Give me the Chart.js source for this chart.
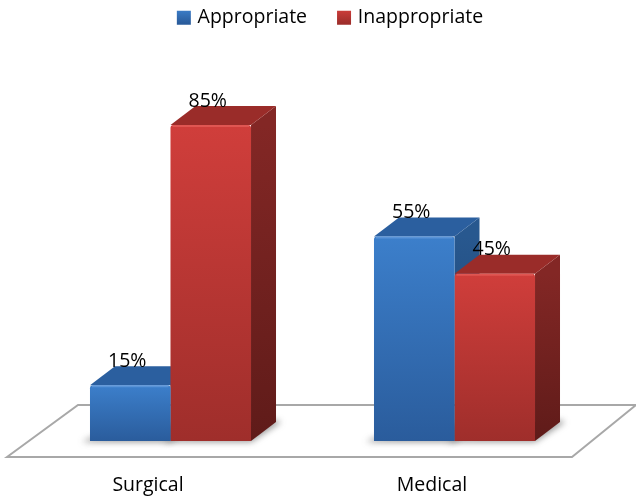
<!DOCTYPE html>
<html>
<head>
<meta charset="utf-8">
<script src="https://cdn.jsdelivr.net/npm/chart.js@4"></script>
<style>
  html, body { margin: 0; padding: 0; background: #fff; }
  canvas { display: block; }
</style>
</head>
<body>
<canvas id="chart" width="636" height="497"></canvas>
<script>
const categories = ['Surgical', 'Medical'];
const appropriate = [15, 55];
const inappropriate = [85, 45];

// Profondeur de la fausse 3D
const depthX = 25;
const depthY = 19;
const fontName = '"Open Sans", sans-serif';

const palette = [
  { top: '#3c7fcb', bottom: '#2a5c9c', roof: '#2b5f9f', sideTop: '#28588f', sideBottom: '#1d3f6b', edge: 'rgba(120,170,230,0.5)' },
  { top: '#d03e3b', bottom: '#9f2e2b', roof: '#9a2c29', sideTop: '#832725', sideBottom: '#5f1b19', edge: 'rgba(240,110,105,0.5)' }
];

// Dégradé vertical propre à chaque barre
const frontFill = (c, colors) => {
  const y = c.chart.scales.y;
  if (!y || c.raw === undefined) return colors.top;
  const grad = c.chart.ctx.createLinearGradient(0, y.getPixelForValue(c.raw), 0, y.getPixelForValue(0));
  grad.addColorStop(0, colors.top);
  grad.addColorStop(1, colors.bottom);
  return grad;
};

const swatchFill = (chart, colors) => {
  const grad = chart.ctx.createLinearGradient(0, 9, 0, 23);
  grad.addColorStop(0, colors.top);
  grad.addColorStop(1, colors.bottom);
  return grad;
};

const polygon = (ctx, pts, fill) => {
  ctx.beginPath();
  pts.forEach((p, i) => i ? ctx.lineTo(p[0], p[1]) : ctx.moveTo(p[0], p[1]));
  ctx.closePath();
  ctx.fillStyle = fill;
  ctx.fill();
};

// Sol en perspective, côtés et toits des barres
const boxPlugin = {
  id: 'box3d',
  afterLayout(chart) {
    // La légende de la référence est décalée vers la droite et remontée
    chart.legend.left += 19;
    chart.legend.right += 19;
    chart.legend.top -= 25;
  },
  beforeDatasetsDraw(chart) {
    const { ctx, chartArea: area } = chart;
    ctx.save();
    ctx.beginPath();
    ctx.moveTo(area.left - 21.5, area.bottom + 16);
    ctx.lineTo(area.left + 49.5, area.bottom - 36);
    ctx.lineTo(636, area.bottom - 36);
    ctx.lineTo(area.right - 24.5, area.bottom + 16);
    ctx.closePath();
    ctx.strokeStyle = '#a8a8a8';
    ctx.lineWidth = 2;
    ctx.stroke();

    chart.data.datasets.forEach((ds, d) => {
      const colors = palette[d];
      chart.getDatasetMeta(d).data.forEach((bar) => {
        const half = bar.width / 2;
        const l = bar.x - half, r = bar.x + half, t = bar.y, b = bar.base;

        // ombre au pied de la barre
        ctx.save();
        ctx.filter = 'blur(3px)';
        polygon(ctx, [[l - 8, b + 1], [r, b + 1], [r + depthX + 5, b - depthY], [r + depthX, b - depthY - 2], [l, b - 3]], 'rgba(70,70,70,0.55)');
        ctx.restore();

        const side = ctx.createLinearGradient(0, t, 0, b);
        side.addColorStop(0, colors.sideTop);
        side.addColorStop(1, colors.sideBottom);
        polygon(ctx, [[r, t], [r + depthX, t - depthY], [r + depthX, b - depthY], [r, b]], side);
        polygon(ctx, [[l, t], [l + depthX, t - depthY], [r + depthX, t - depthY], [r, t]], colors.roof);
      });
    });
    ctx.restore();
  },
  afterDatasetsDraw(chart) {
    const { ctx } = chart;
    ctx.save();
    // liseré clair du haut de la face avant
    chart.data.datasets.forEach((ds, d) => {
      chart.getDatasetMeta(d).data.forEach((bar) => {
        const half = bar.width / 2;
        ctx.strokeStyle = palette[d].edge;
        ctx.lineWidth = 2;
        ctx.beginPath();
        ctx.moveTo(bar.x - half + 2, bar.y + 1);
        ctx.lineTo(bar.x + half - 2, bar.y + 1);
        ctx.stroke();
      });
    });
    // étiquettes de valeurs
    ctx.font = '19.5px ' + fontName;
    ctx.fillStyle = '#000';
    ctx.textAlign = 'center';
    ctx.textBaseline = 'middle';
    chart.data.datasets.forEach((ds, d) => {
      chart.getDatasetMeta(d).data.forEach((bar, i) => {
        ctx.fillText(ds.data[i] + '%', bar.x - 3, bar.y - 24);
      });
    });
    ctx.restore();
  }
};

new Chart(document.getElementById('chart'), {
  type: 'bar',
  data: {
    labels: categories,
    datasets: [
      {
        label: 'Appropriate',
        data: appropriate,
        backgroundColor: (c) => frontFill(c, palette[0]),
        borderRadius: { topLeft: 3, topRight: 3 },
        categoryPercentage: 0.567,
        barPercentage: 1
      },
      {
        label: 'Inappropriate',
        data: inappropriate,
        backgroundColor: (c) => frontFill(c, palette[1]),
        borderRadius: { topLeft: 3, topRight: 3 },
        categoryPercentage: 0.567,
        barPercentage: 1
      }
    ]
  },
  options: {
    responsive: false,
    animation: false,
    layout: { padding: { left: 28.5, right: 39.5, top: 0, bottom: 0 } },
    scales: {
      x: {
        grid: { display: false },
        border: { display: false },
        afterFit: (scale) => { scale.height = 56; },
        ticks: { color: '#000', font: { family: fontName, size: 19.5 }, padding: 25, labelOffset: -22.5 }
      },
      y: { display: false, min: 0, max: 101.8 }
    },
    plugins: {
      tooltip: { enabled: false },
      legend: {
        position: 'top',
        labels: {
          color: '#000',
          font: { family: fontName, size: 19.5 },
          boxWidth: 8,
          boxHeight: 8,
          padding: 33,
          generateLabels: (chart) => chart.data.datasets.map((ds, d) => ({
            text: ds.label,
            fillStyle: swatchFill(chart, palette[d]),
            strokeStyle: swatchFill(chart, palette[d]),
            lineWidth: 6,
            datasetIndex: d
          }))
        }
      }
    }
  },
  plugins: [boxPlugin]
});
</script>
</body>
</html>
